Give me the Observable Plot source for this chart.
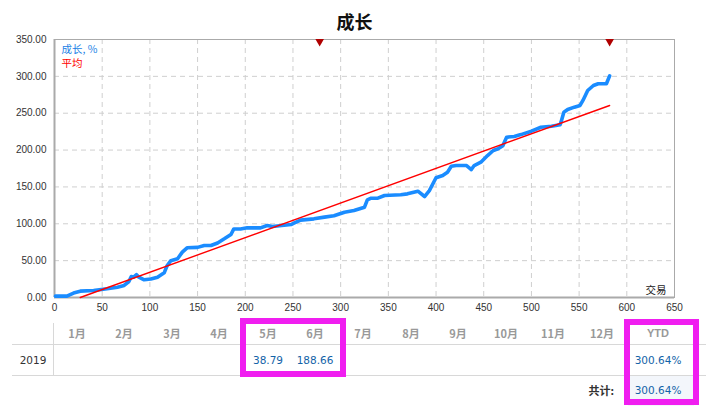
<!DOCTYPE html>
<html>
<head>
<meta charset="utf-8">
<script src="https://cdn.jsdelivr.net/npm/d3@7"></script>
<script src="https://cdn.jsdelivr.net/npm/@observablehq/plot@0.6"></script>
<style>
  body { margin: 0; background: #fff; font-family: "Liberation Sans", "Noto Sans CJK SC", sans-serif; }
  #wrap { position: relative; width: 709px; height: 409px; overflow: hidden; }
  #title { position: absolute; left: 0; top: 8px; width: 709px; text-align: center; font: bold 18px "Noto Sans CJK SC", sans-serif; color: #111; z-index: 2; }
  #chart { position: absolute; left: 0; top: 0; }
  .cell { position: absolute; transform: translate(-50%, -50%); white-space: nowrap; font-size: 11px; }
  .hdr { color: #999; font-weight: bold; font-family: "Noto Sans CJK SC", sans-serif; }
  .val { color: #1363a8; font-family: "DejaVu Sans", sans-serif; font-size: 10.5px; }
  .hline { position: absolute; height: 1px; background: #d8d8d8; }
  .box { position: absolute; border: 6px solid #f01ef0; box-sizing: border-box; }
</style>
</head>
<body>
<div id="wrap">
  <div id="title"></div>
  <div id="chart"></div>
</div>
<script>
// ---- data ----
const chartTitle = "成长";
const trades = [1, 13, 20, 27, 41, 55, 66, 73, 78, 80.5, 83, 86, 88.5, 94, 101, 108, 115, 118, 122, 129, 134, 139, 150, 157, 164, 171, 178, 185, 188, 195, 202, 216, 223, 228.5, 248, 251, 258, 272, 283, 293, 304, 314, 325, 328, 332, 339, 346, 363, 370, 381, 388, 393, 400, 407, 412, 416, 421, 432, 437, 440, 447, 454, 460, 465, 470, 474, 482, 489, 500, 510, 521, 530, 531, 534, 538, 545, 551, 554, 559, 565, 570, 578.6, 580, 582];
const growth = [1.8, 1.8, 6, 8.6, 9.5, 11.8, 14, 16.3, 21.7, 28.5, 27.6, 31, 27.6, 24, 25, 27.6, 33.5, 43, 50, 52.5, 61.5, 67.4, 68, 70.5, 70.5, 74, 79.6, 85.5, 93, 93, 94.5, 94.5, 97.7, 96.3, 99, 100.8, 105, 106.7, 109, 111, 115.7, 118, 122.5, 132.5, 134.7, 134.7, 138.4, 139.3, 140.6, 144.2, 137, 145, 162.4, 165.5, 170, 178, 179, 179, 173.6, 179, 183.5, 192.6, 199.4, 201.7, 206, 217.5, 218.4, 221, 225.6, 231, 232.4, 234.3, 237.8, 251.4, 255, 258.2, 260.5, 267.3, 280.8, 287.6, 290, 290, 294.4, 300.64];
const avgTrades = [27, 582];
const avgValues = [0, 260.5];
const markerTrades = [278, 582];
const xTicks = [0, 50, 100, 150, 200, 250, 300, 350, 400, 450, 500, 550, 600, 650];
const yTicks = [0, 50, 100, 150, 200, 250, 300, 350];
const legendGrowth = "成长, %";
const legendAvg = "平均";
const xLabel = "交易";

const months = ["1月","2月","3月","4月","5月","6月","7月","8月","9月","10月","11月","12月"];
const monthValues = [null, null, null, null, "38.79", "188.66", null, null, null, null, null, null];
const ytdHeader = "YTD";
const yearLabel = "2019";
const ytdValue = "300.64%";
const totalLabel = "共计:";
const totalValue = "300.64%";

// ---- chart ----
document.getElementById("title").textContent = chartTitle;

const series = trades.map((t, i) => ({t, v: growth[i]}));
const avg = avgTrades.map((t, i) => ({t, v: avgValues[i]}));

const chart = Plot.plot({
  width: 709,
  height: 320,
  marginTop: 39,
  marginLeft: 54,
  marginRight: 35,
  marginBottom: 23,
  style: { fontFamily: "'Liberation Sans', sans-serif", fontSize: "10px", color: "#333", background: "transparent" },
  x: { domain: [0, 650], ticks: xTicks, tickSize: 0, tickPadding: 6, label: null },
  y: { domain: [0, 350], ticks: yTicks, tickSize: 0, tickPadding: 8, label: null, tickFormat: d => d.toFixed(2) },
  marks: [
    Plot.ruleX(xTicks.filter(d => d > 0 && d < 650), { stroke: "#cfcfcf", strokeDasharray: "5,4" }),
    Plot.ruleY(yTicks.filter(d => d > 0 && d < 350), { stroke: "#cfcfcf", strokeDasharray: "5,4" }),
    Plot.frame({ stroke: "#aaa" }),
    Plot.ruleX([0], { stroke: "#aaa", strokeWidth: 2 }),
    Plot.ruleY([0], { stroke: "#aaa", strokeWidth: 2 }),
    Plot.line(series, { x: "t", y: "v", stroke: "#1a8cff", strokeWidth: 3.6, strokeLinejoin: "round", strokeLinecap: "round" }),
    Plot.line(avg, { x: "t", y: "v", stroke: "#ff0000", strokeWidth: 1.4 }),
    Plot.dot(markerTrades, { x: d => d, y: () => 350, symbol: "triangle", rotate: 180, r: 3.2, fill: "#b00000", stroke: "none", dy: 2 }),
    Plot.text([legendGrowth], { frameAnchor: "top-left", dx: 7, dy: 6, fill: "#1a7fe6", fontSize: 10.5, fontFamily: "'Noto Sans CJK SC', sans-serif", textAnchor: "start" }),
    Plot.text([legendAvg], { frameAnchor: "top-left", dx: 7, dy: 20, fill: "#ff0000", fontSize: 10.5, fontFamily: "'Noto Sans CJK SC', sans-serif", textAnchor: "start" }),
    Plot.text([xLabel], { frameAnchor: "bottom-right", dx: -8, dy: -4, fill: "#222", fontSize: 10.5, fontFamily: "'Noto Sans CJK SC', sans-serif" })
  ]
});
document.getElementById("chart").appendChild(chart);

// ---- table ----
const wrap = document.getElementById("wrap");
function add(cls, text, x, y, extra) {
  const d = document.createElement("div");
  d.className = cls;
  d.textContent = text;
  d.style.left = x + "px";
  d.style.top = y + "px";
  if (extra) Object.assign(d.style, extra);
  wrap.appendChild(d);
  return d;
}
const colX = [77, 124, 172, 219, 268, 315, 363, 411, 458, 506, 553, 602];
const ytdX = 658;
months.forEach((m, i) => add("cell hdr", m, colX[i], 333));
add("cell hdr", ytdHeader, ytdX, 333, { fontFamily: "'Liberation Sans', sans-serif" });
add("cell", yearLabel, 33, 360, { color: "#333", fontFamily: "'DejaVu Sans', sans-serif", fontSize: "10.5px" });
monthValues.forEach((v, i) => { if (v) add("cell val", v, colX[i], 360); });
add("cell val", ytdValue, ytdX, 360);

// total row background
const bg = document.createElement("div");
Object.assign(bg.style, { position: "absolute", left: "628px", top: "376px", width: "66px", height: "30px", background: "#f3f6fb" });
wrap.appendChild(bg);
add("cell", totalLabel, 614, 390, { transform: "translate(-100%, -50%)", color: "#333", fontWeight: "bold", fontFamily: "'Noto Sans CJK SC', sans-serif" });
add("cell val", totalValue, ytdX, 390);

// lines
function hline(x, y, w) { const d = document.createElement("div"); d.className = "hline"; Object.assign(d.style, { left: x + "px", top: y + "px", width: w + "px" }); wrap.appendChild(d); }
hline(12, 344, 694);
hline(12, 375, 694);
const vl = document.createElement("div");
Object.assign(vl.style, { position: "absolute", left: "53px", top: "323px", width: "1px", height: "52px", background: "#d8d8d8" });
wrap.appendChild(vl);

// highlight boxes
function box(l, t, r, b) { const d = document.createElement("div"); d.className = "box"; Object.assign(d.style, { left: l + "px", top: t + "px", width: (r - l) + "px", height: (b - t) + "px" }); wrap.appendChild(d); }
box(240, 318, 346, 377);
box(624, 319, 699, 405);
</script>
</body>
</html>
